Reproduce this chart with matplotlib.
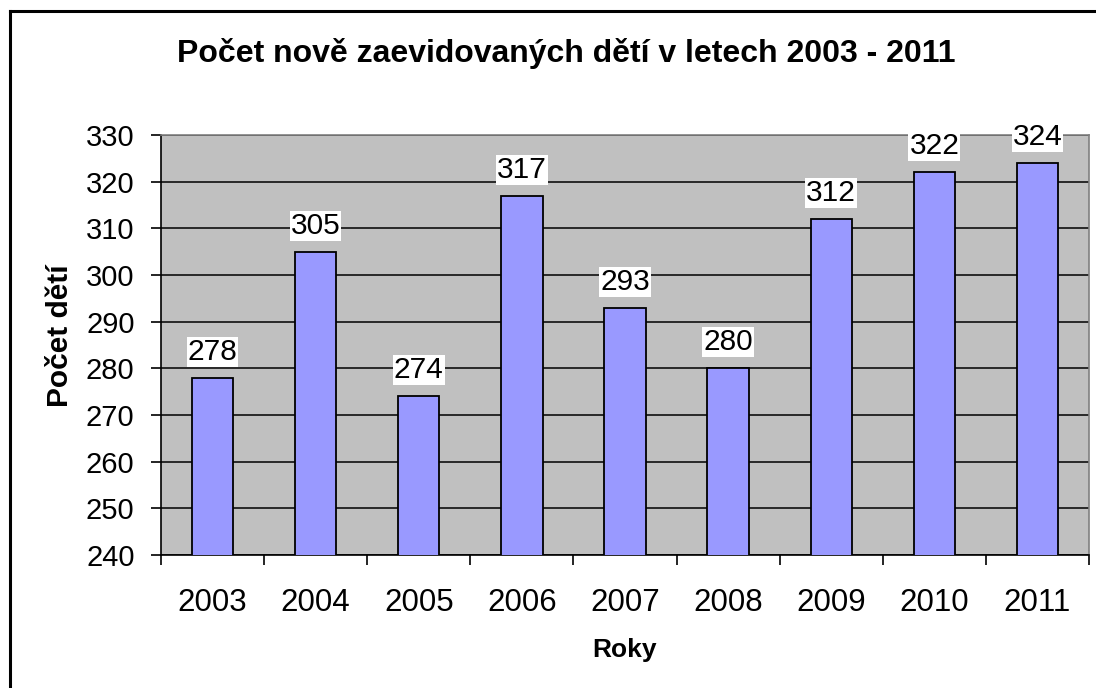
import numpy as np
import matplotlib
matplotlib.use("Agg")
import matplotlib.pyplot as plt
from matplotlib.lines import Line2D

plt.rcParams['font.family'] = ['Liberation Sans', 'DejaVu Sans']

years = ["2003", "2004", "2005", "2006", "2007", "2008", "2009", "2010", "2011"]
counts = [278, 305, 274, 317, 293, 280, 312, 322, 324]

fig = plt.figure(figsize=(10.96, 6.88), dpi=100)
ax = fig.add_axes([161/1096, 1 - 555/688, (1089 - 161)/1096, (555 - 135)/688])
ax.set_facecolor("#C0C0C0")

x = np.arange(len(years))
ax.bar(x, counts, width=0.4, color="#9999FF", edgecolor="black", linewidth=1.3, zorder=3)

ax.set_ylim(240, 330)
ax.set_xlim(-0.5, len(years) - 0.5)
ax.set_yticks(np.arange(240, 331, 10))
ax.yaxis.grid(True, color="black", linewidth=1.1, zorder=1)
ax.set_axisbelow(True)

# labels at bar centres, tick marks between categories
ax.set_xticks(x)
ax.set_xticklabels(years)
ax.set_xticks(np.arange(-0.5, len(years)), minor=True)
ax.tick_params(axis="x", which="major", length=0, pad=24, labelsize=22.5)
ax.tick_params(axis="x", which="minor", length=7, width=1.2, direction="out")
ax.tick_params(axis="y", length=7, width=1.2, direction="out", pad=12, labelsize=21)

for s in ["left", "bottom"]:
    ax.spines[s].set_color("black")
    ax.spines[s].set_linewidth(1.2)
for s in ["top", "right"]:
    ax.spines[s].set_color("#808080")
    ax.spines[s].set_linewidth(1.2)

for xi, v in zip(x, counts):
    ax.annotate(str(v), (xi, v), xytext=(0, 13), textcoords="offset points",
                ha="center", va="baseline", fontsize=21.5, zorder=5,
                bbox=dict(boxstyle="square,pad=0.03", fc="white", ec="none"),
                annotation_clip=False)

fig.text(625/1096, 1 - 657/688, "Roky", ha="center", va="baseline",
         fontsize=19, fontweight="bold")
fig.text(60/1096, 1 - 336/688, "Počet dětí", ha="center", va="center",
         rotation=90, fontsize=21.5, fontweight="bold")

fig.text(566/1096, 1 - 62/688, "Počet nově zaevidovaných dětí v letech 2003 - 2011",
         ha="center", va="baseline", fontsize=23, fontweight="bold")

# chart border (left and top visible)
fig.add_artist(Line2D([9.5/1096, 9.5/1096], [0, 1 - 11/688], color="black", linewidth=2.2))
fig.add_artist(Line2D([9.5/1096, 1], [1 - 11/688, 1 - 11/688], color="black", linewidth=2.2))

fig.savefig("out.png", dpi=100)
